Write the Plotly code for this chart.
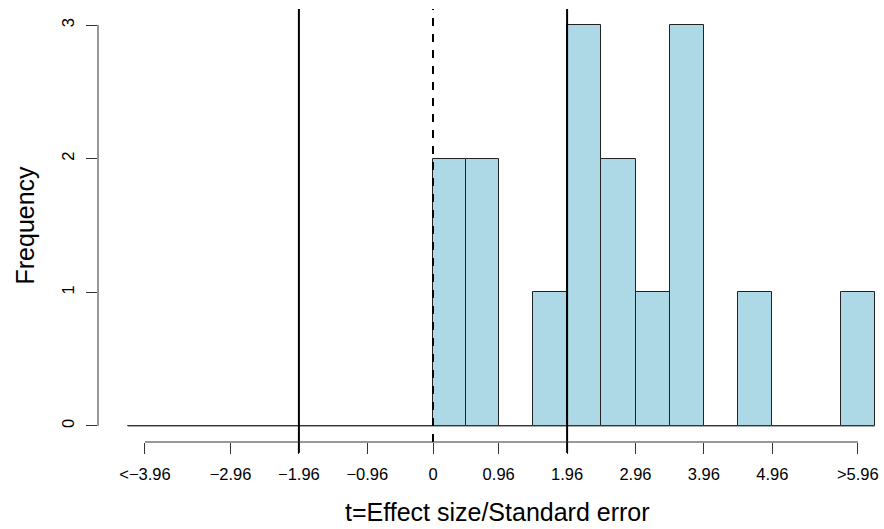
import plotly.graph_objects as go

# ---- data ----
bin_edges = [-4.46, -3.96, -3.46, -2.96, -2.46, -1.96, -1.46, -0.96, -0.48, 0.0,
             0.48, 0.96, 1.46, 1.96, 2.46, 2.96, 3.46, 3.96, 4.46, 4.96, 5.46, 5.96, 6.46]
counts = [0, 0, 0, 0, 0, 0, 0, 0, 0, 2, 2, 0, 1, 3, 2, 1, 3, 0, 1, 0, 0, 1]

x_tick_vals = [-4.21, -2.96, -1.96, -0.96, 0.0, 0.96, 1.96, 2.96, 3.96, 4.96, 6.21]
x_tick_text = ["<\u22123.96", "\u22122.96", "\u22121.96", "\u22120.96", "0", "0.96",
               "1.96", "2.96", "3.96", "4.96", ">5.96"]
y_tick_vals = [0, 1, 2, 3]

solid_lines = [-1.96, 1.96]
dashed_lines = [0.0]

x_title = "t=Effect size/Standard error"
y_title = "Frequency"

# ---- derived bar geometry ----
lefts = bin_edges[:-1]
rights = bin_edges[1:]
centers = [(a + b) / 2 for a, b in zip(lefts, rights)]
widths = [b - a for a, b in zip(lefts, rights)]

FONT = "Liberation Sans, Arial, Helvetica, sans-serif"

fig = go.Figure()

# baseline for empty bins (R draws zero-height rectangles)
fig.add_trace(go.Scatter(
    x=[bin_edges[0], bin_edges[-1]], y=[0, 0], mode="lines",
    line=dict(color="#444444", width=1), hoverinfo="skip", showlegend=False))

fig.add_trace(go.Bar(
    x=centers, y=counts, width=widths,
    marker=dict(color="#ADD8E6", line=dict(color="#222222", width=1)),
    showlegend=False))

shapes = []
for v in solid_lines:
    shapes.append(dict(type="line", xref="x", yref="paper", x0=v, x1=v, y0=-0.025, y1=1,
                       line=dict(color="black", width=2), layer="above"))
for v in dashed_lines:
    shapes.append(dict(type="line", xref="x", yref="paper", x0=v, x1=v, y0=0, y1=1,
                       line=dict(color="black", width=2, dash="8px,8px"), layer="above"))
# R-style axis lines spanning only first..last tick
shapes.append(dict(type="line", xref="x", yref="paper", x0=x_tick_vals[0], x1=x_tick_vals[-1],
                   y0=0, y1=0, line=dict(color="#333333", width=1)))
shapes.append(dict(type="line", xref="paper", yref="y", x0=0, x1=0,
                   y0=y_tick_vals[0], y1=y_tick_vals[-1], line=dict(color="#333333", width=1)))

x_lo = bin_edges[0] - 0.04 * (bin_edges[-1] - bin_edges[0])
x_scale = (433 - 98) / (0 - x_lo)
x_hi = (884 - 433) / x_scale

fig.update_layout(
    width=884, height=529,
    margin=dict(l=98, r=0, t=9, b=87, pad=0),
    paper_bgcolor="white", plot_bgcolor="white",
    bargap=0,
    font=dict(family=FONT, color="black"),
    shapes=shapes,
    xaxis=dict(range=[x_lo, x_hi], tickmode="array", tickvals=x_tick_vals, ticktext=x_tick_text,
               ticks="outside", ticklen=11, tickwidth=1, tickcolor="#333333",
               showline=False, showgrid=False, zeroline=False,
               tickfont=dict(size=16.5, family=FONT, color="black"), ticklabelstandoff=6),
    yaxis=dict(range=[-0.12, 3.12], tickmode="array", tickvals=y_tick_vals,
               ticktext=[str(v) for v in y_tick_vals],
               ticks="outside", ticklen=11, tickwidth=1, tickcolor="#333333",
               showline=False, showgrid=False, zeroline=False, tickangle=-90,
               tickfont=dict(size=16.5, family=FONT, color="black"), ticklabelstandoff=5),
    annotations=[
        dict(text=x_title, xref="paper", yref="paper", x=(497.5 - 98) / 786, y=0,
             yshift=-(512 - 442), xanchor="center", yanchor="middle", showarrow=False,
             font=dict(size=25, family=FONT, color="black")),
        dict(text=y_title, xref="paper", yref="paper", x=0, xshift=-(98 - 24), y=0.5,
             textangle=-90, xanchor="center", yanchor="middle", showarrow=False,
             font=dict(size=25, family=FONT, color="black")),
    ],
)

fig.write_html("out.html")
